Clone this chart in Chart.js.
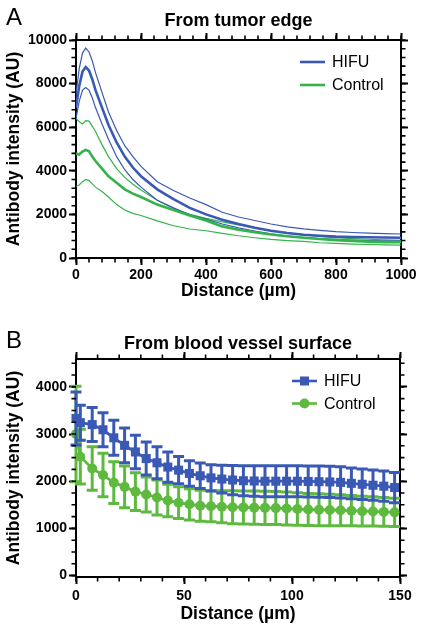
<!DOCTYPE html>
<html><head><meta charset="utf-8">
<script src="https://cdn.jsdelivr.net/npm/chart.js@4.4.1/dist/chart.umd.min.js"></script>
<style>
html,body{margin:0;padding:0;background:#fff;}
canvas{display:block;}
</style></head>
<body>
<canvas id="a" width="421" height="315"></canvas>
<canvas id="b" width="421" height="315"></canvas>
<script>
// ---------- Panel A: From tumor edge ----------
const distA = [0,10,20,30,40,50,60,80,100,125,150,175,200,250,300,350,400,450,500,550,600,650,700,750,800,850,900,950,1000];
const hifuMeanA  = [6900,7900,8550,8760,8600,8200,7700,6900,6100,5300,4650,4150,3750,3150,2700,2300,2000,1760,1560,1390,1250,1150,1070,1020,980,960,950,940,930];
const hifuUpperA = [7500,8700,9400,9630,9450,9050,8500,7600,6700,5850,5150,4650,4200,3500,3100,2750,2450,2100,1880,1720,1560,1430,1340,1270,1210,1170,1140,1120,1100];
const hifuLowerA = [6400,7200,7700,7820,7700,7350,6900,6150,5450,4650,4050,3600,3250,2650,2300,1980,1780,1560,1380,1240,1110,1010,940,890,850,820,800,785,770];
const ctrlMeanA  = [4790,4750,4880,4960,4900,4650,4450,4100,3750,3450,3150,2950,2800,2450,2200,1950,1720,1450,1300,1180,1080,1000,930,870,820,780,750,730,720];
const ctrlUpperA = [6400,6250,6150,6300,6280,6050,5800,5200,4650,4100,3700,3380,3120,2650,2270,2000,1820,1660,1520,1380,1250,1150,1060,990,930,890,860,830,810];
const ctrlLowerA = [3290,3350,3500,3600,3550,3400,3250,3050,2800,2450,2200,2050,1950,1700,1480,1330,1250,1130,1020,930,850,800,760,700,670,640,620,600,590];
const xTicksA = [0,200,400,600,800,1000];
const yTicksA = [0,2000,4000,6000,8000,10000];

// ---------- Panel B: From blood vessel surface ----------
const distB = [0,2,7.5,12.5,17.5,22.5,27.5,32.5,37.5,42.5,47.5,52.5,57.5,62.5,67.5,72.5,77.5,82.5,87.5,92.5,97.5,102.5,107.5,112.5,117.5,122.5,127.5,132.5,137.5,142.5,147.5];
const hifuMeanB = [3330,3240,3200,3090,2920,2760,2620,2480,2390,2300,2235,2165,2115,2070,2045,2025,2010,2005,2000,2000,2000,2000,1995,1990,1985,1975,1955,1935,1915,1895,1865];
const hifuErrB  = [560,370,360,360,370,370,355,350,340,320,290,270,270,280,295,310,320,325,330,330,330,330,330,330,330,330,325,325,320,320,320];
const ctrlMeanB = [3000,2520,2270,2130,1970,1880,1780,1720,1655,1590,1545,1510,1480,1470,1460,1450,1445,1440,1435,1430,1420,1410,1400,1395,1390,1385,1375,1365,1360,1350,1340];
const ctrlErrB  = [1010,580,460,460,440,440,400,370,370,345,335,332,330,330,340,350,350,350,350,350,350,345,340,340,335,330,320,315,310,305,300];
const xTicksB = [0,50,100,150];
const yTicksB = [0,1000,2000,3000,4000];

const seriesNames = ['HIFU','Control'];

// ---------- styling ----------
const BLUE = '#3a59b4';
const GREEN_A = '#33b349';
const GREEN_B = '#5dba3f';
const FONT = "'Liberation Sans', Arial, sans-serif";
const tickFont = {family: FONT, size: 14, weight: 'bold'};
const axisTitleFont = {family: FONT, size: 17.5, weight: 'bold'};

const pts = (xs, ys) => xs.map((x, i) => ({x, y: ys[i]}));

function makeScales(o) {
  const setTicks = arr => (s => { s.ticks = arr.map(v => ({value: v})); });
  const grid = {display: true, drawOnChartArea: false, drawTicks: true, tickLength: 7, tickWidth: 2, tickColor: '#000'};
  const border = {display: true, color: '#000', width: 2};
  return {
    x: {type: 'linear', position: 'bottom', min: o.xMin, max: o.xMax,
        afterBuildTicks: setTicks(o.xTicks), afterFit: s => { s.height = o.bottomH; },
        grid, border,
        ticks: {color: '#000', font: tickFont, padding: o.xPad, maxRotation: 0, autoSkip: false, callback: v => String(v)},
        title: {display: true, text: 'Distance (µm)', color: '#000', font: axisTitleFont, padding: {top: 0, bottom: o.xTitlePad}}},
    x2: {type: 'linear', position: 'top', min: o.xMin, max: o.xMax,
        afterBuildTicks: setTicks(o.xTicks), afterFit: s => { s.height = o.topH; },
        grid, border, ticks: {display: false}},
    y: {type: 'linear', position: 'left', min: o.yMin, max: o.yMax,
        afterBuildTicks: setTicks(o.yTicks), afterFit: s => { s.width = o.leftW; },
        grid, border,
        ticks: {color: '#000', font: tickFont, padding: 2, autoSkip: false, callback: v => String(v)},
        title: {display: true, text: 'Antibody intensity (AU)', color: '#000', font: axisTitleFont, padding: {top: 3.5, bottom: 0}}},
    y2: {type: 'linear', position: 'right', min: o.yMin, max: o.yMax,
        afterBuildTicks: setTicks(o.yTicks), afterFit: s => { s.width = o.rightW; },
        grid, border, ticks: {display: false}}
  };
}

// minor ticks drawn through the chart's scales
const minorTicks = {
  id: 'minorTicks',
  afterDraw(chart, args, o) {
    const ctx = chart.ctx, a = chart.chartArea;
    const xs = chart.scales.x, ys = chart.scales.y;
    ctx.save();
    ctx.strokeStyle = '#000'; ctx.lineWidth = 1.6;
    const len = 4.5;
    ctx.beginPath();
    for (let v = o.xFrom; v <= o.xTo + 1e-9; v += o.xStep) {
      const p = xs.getPixelForValue(v);
      ctx.moveTo(p, a.bottom); ctx.lineTo(p, a.bottom + len);
      ctx.moveTo(p, a.top); ctx.lineTo(p, a.top - len);
    }
    for (let v = o.yFrom; v <= o.yTo + 1e-9; v += o.yStep) {
      const p = ys.getPixelForValue(v);
      ctx.moveTo(a.left, p); ctx.lineTo(a.left - len, p);
      ctx.moveTo(a.right, p); ctx.lineTo(a.right + len, p);
    }
    ctx.stroke();
    ctx.restore();
  }
};

// panel letter + title
const headings = {
  id: 'headings',
  afterDraw(chart, args, o) {
    const ctx = chart.ctx, a = chart.chartArea;
    ctx.save();
    ctx.fillStyle = '#000';
    ctx.textBaseline = 'middle';
    ctx.font = `24px ${FONT}`;
    ctx.textAlign = 'left';
    ctx.fillText(o.letter, 6, o.letterY);
    ctx.font = `bold 18px ${FONT}`;
    ctx.textAlign = 'center';
    ctx.fillText(o.title, (a.left + a.right) / 2, o.titleY);
    ctx.restore();
  }
};

// legend drawn inside the plot
const insideLegend = {
  id: 'insideLegend',
  afterDraw(chart, args, o) {
    const ctx = chart.ctx;
    ctx.save();
    chart.data.datasets.forEach((ds, i) => {
      if (!ds.label) return;
      const idx = seriesNames.indexOf(ds.label);
      const y = o.y + idx * o.gap;
      ctx.strokeStyle = ds.borderColor; ctx.lineWidth = 2.6;
      ctx.beginPath(); ctx.moveTo(o.x, y); ctx.lineTo(o.x + o.len, y); ctx.stroke();
      if (o.markers) {
        ctx.fillStyle = ds.borderColor;
        const cx = o.x + o.len / 2;
        if (ds.pointStyle === 'rect') ctx.fillRect(cx - 4.5, y - 4.5, 9, 9);
        else { ctx.beginPath(); ctx.arc(cx, y, 5, 0, Math.PI * 2); ctx.fill(); }
      }
      ctx.fillStyle = '#000';
      ctx.font = `16px ${FONT}`;
      ctx.textAlign = 'left'; ctx.textBaseline = 'middle';
      ctx.fillText(ds.label, o.x + o.len + 7, y + 1);
    });
    ctx.restore();
  }
};

// error bars drawn through the chart's scales
const errorBars = {
  id: 'errorBars',
  beforeDatasetDraw(chart, args) {
    const ds = chart.data.datasets[args.index];
    if (!ds.errors) return;
    const xs = chart.scales.x, ys = chart.scales.y, ctx = chart.ctx;
    ctx.save();
    ctx.strokeStyle = ds.borderColor; ctx.lineWidth = 3;
    ctx.beginPath();
    ds.data.forEach((p, i) => {
      const e = ds.errors[i];
      const px = xs.getPixelForValue(p.x);
      const hi = ys.getPixelForValue(p.y + e), lo = ys.getPixelForValue(p.y - e);
      ctx.moveTo(px, hi); ctx.lineTo(px, lo);
      ctx.moveTo(px - 5.5, hi); ctx.lineTo(px + 5.5, hi);
      ctx.moveTo(px - 5.5, lo); ctx.lineTo(px + 5.5, lo);
    });
    ctx.stroke();
    ctx.restore();
  }
};

const base = {
  responsive: false, animation: false, devicePixelRatio: 1,
  layout: {padding: 0},
  elements: {line: {tension: 0}},
};

// ----- Chart A -----
const thin = (data, color) => ({data: pts(distA, data), borderColor: color, borderWidth: 1.2, pointRadius: 0, fill: false});
new Chart(document.getElementById('a'), {
  type: 'line',
  data: {datasets: [
    {label: seriesNames[0], data: pts(distA, hifuMeanA), borderColor: BLUE, borderWidth: 2.6, pointRadius: 0, fill: false},
    {label: seriesNames[1], data: pts(distA, ctrlMeanA), borderColor: GREEN_A, borderWidth: 2.6, pointRadius: 0, fill: false},
    thin(hifuUpperA, BLUE), thin(hifuLowerA, BLUE),
    thin(ctrlUpperA, GREEN_A), thin(ctrlLowerA, GREEN_A)
  ]},
  options: Object.assign({}, base, {
    scales: makeScales({xMin: 0, xMax: 1000, yMin: 0, yMax: 10000, xTicks: xTicksA, yTicks: yTicksA,
      leftW: 76, rightW: 20, topH: 40, bottomH: 57, xPad: 2, xTitlePad: 13.5}),
    plugins: {legend: {display: false}, tooltip: {enabled: false},
      minorTicks: {xFrom: 0, xTo: 1000, xStep: 40, yFrom: 0, yTo: 10000, yStep: 400},
      headings: {letter: 'A', letterY: 18, title: 'From tumor edge', titleY: 21.5},
      insideLegend: {x: 300, y: 62, gap: 23, len: 25, markers: false}}
  }),
  plugins: [minorTicks, headings, insideLegend]
});

// ----- Chart B -----
new Chart(document.getElementById('b'), {
  type: 'line',
  data: {datasets: [
    {label: seriesNames[0], data: pts(distB, hifuMeanB), errors: hifuErrB, borderColor: BLUE, backgroundColor: BLUE,
     borderWidth: 2.8, pointStyle: 'rect', pointRadius: 6.4, pointBorderWidth: 0, fill: false, clip: false},
    {label: seriesNames[1], data: pts(distB, ctrlMeanB), errors: ctrlErrB, borderColor: GREEN_B, backgroundColor: GREEN_B,
     borderWidth: 2.8, pointStyle: 'circle', pointRadius: 5, pointBorderWidth: 0, fill: false, clip: false}
  ]},
  options: Object.assign({}, base, {
    scales: makeScales({xMin: 0, xMax: 150, yMin: -30, yMax: 4590, xTicks: xTicksB, yTicks: yTicksB,
      leftW: 76, rightW: 21, topH: 44, bottomH: 53, xPad: 4, xTitlePad: 5}),
    plugins: {legend: {display: false}, tooltip: {enabled: false},
      minorTicks: {xFrom: 0, xTo: 150, xStep: 10, yFrom: 0, yTo: 4500, yStep: 250},
      headings: {letter: 'B', letterY: 26, title: 'From blood vessel surface', titleY: 29.5},
      insideLegend: {x: 292, y: 66, gap: 22.5, len: 25, markers: true}}
  }),
  plugins: [errorBars, minorTicks, headings, insideLegend]
});
</script>
</body></html>
